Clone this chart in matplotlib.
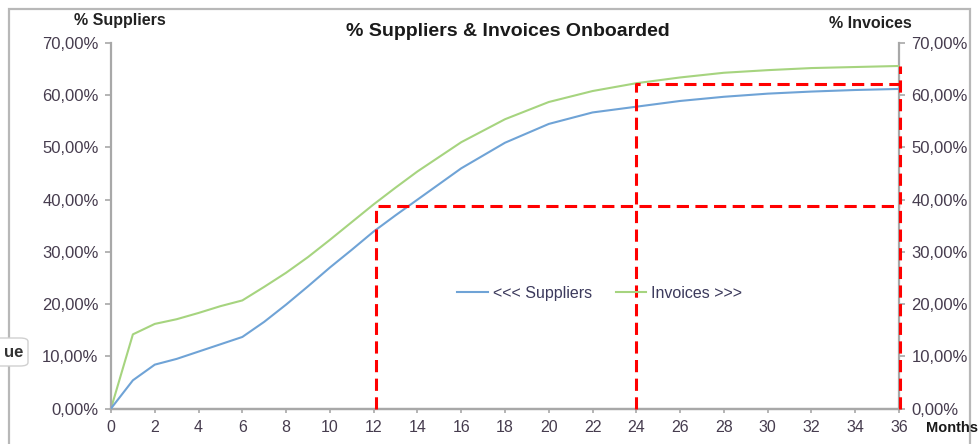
import matplotlib
matplotlib.use("Agg")
import matplotlib.pyplot as plt
from matplotlib.patches import Rectangle, FancyBboxPatch
from matplotlib.ticker import FuncFormatter

plt.rcParams['font.family'] = ['Liberation Sans', 'DejaVu Sans']

# Months since launch
months = [0, 1, 2, 3, 4, 5, 6, 7, 8, 9, 10, 11, 12, 13, 14,
          16, 18, 20, 22, 24, 26, 28, 30, 32, 34, 36]
# Share of suppliers onboarded (left axis)
suppliers = [0.0, 5.4, 8.4, 9.5, 10.9, 12.3, 13.7, 16.6, 19.9, 23.4, 27.0, 30.4, 33.9, 37.0, 40.0,
             46.0, 50.9, 54.5, 56.7, 57.8, 58.9, 59.7, 60.3, 60.7, 61.0, 61.2]
# Share of invoices onboarded (right axis)
invoices = [0.0, 14.2, 16.2, 17.1, 18.3, 19.6, 20.7, 23.3, 26.0, 29.0, 32.3, 35.7, 39.1, 42.3, 45.4,
            51.0, 55.4, 58.7, 60.8, 62.3, 63.4, 64.3, 64.8, 65.2, 65.4, 65.6]

x_ticks = list(range(0, 37, 2))
y_ticks = [0, 10, 20, 30, 40, 50, 60, 70]

# Milestone guides: (month, level)
guide_months = [12.1, 24.0, 36.05]
guide_levels = [38.8, 62.2, 65.6]

BLUE = '#6fa3d6'
GREEN = '#a6d47f'
RED = '#ff0000'
AXIS = '#a8a8a8'
TXT = '#463c4e'

fig = plt.figure(figsize=(9.8, 4.44), dpi=100)
fig.patch.set_facecolor('white')

ax = fig.add_axes([111 / 980, 1 - 408.5 / 444, 788 / 980, 365.5 / 444])
ax2 = ax.twinx()

ax.plot(months, suppliers, color=BLUE, lw=1.5, label='<<< Suppliers', zorder=3)
ax2.plot(months, invoices, color=GREEN, lw=1.5, label='Invoices >>>', zorder=3)

# Dashed milestone frames
dash = dict(color=RED, lw=2.2, dashes=(4, 2.1), zorder=4, clip_on=False,
            solid_capstyle='butt', dash_capstyle='butt')
right_edge = guide_months[2]
ax.plot([guide_months[0], guide_months[0], right_edge],
        [0, guide_levels[0], guide_levels[0]], **dash)
ax.plot([guide_months[1], guide_months[1], right_edge],
        [0, guide_levels[1], guide_levels[1]], **dash)
ax.plot([guide_months[2], guide_months[2]], [0, guide_levels[2]], **dash)

pct = FuncFormatter(lambda v, p: f"{v:.2f}".replace('.', ',') + '%')
for a in (ax, ax2):
    a.set_xlim(0, 36)
    a.set_ylim(0, 70)
    a.set_yticks(y_ticks)
    a.yaxis.set_major_formatter(pct)
    for s in a.spines.values():
        s.set_color(AXIS)
        s.set_linewidth(1.6)
    a.spines['top'].set_visible(False)
    a.tick_params(colors=AXIS, labelcolor=TXT, labelsize=12, length=4, width=1.2)

ax.spines['right'].set_visible(False)
ax2.spines['left'].set_visible(False)
ax.set_xticks(x_ticks)
ax.tick_params(axis='x', length=3, pad=5, labelsize=11.5)
ax.tick_params(axis='y', pad=5)
ax2.tick_params(axis='y', pad=5)
ax.set_zorder(ax2.get_zorder() + 1)
ax.patch.set_visible(False)

h1, l1 = ax.get_legend_handles_labels()
h2, l2 = ax2.get_legend_handles_labels()
leg = ax.legend(h1 + h2, l1 + l2, loc='center', bbox_to_anchor=(0.62, 0.316),
                ncol=2, frameon=False, fontsize=11.5, handlelength=1.9,
                handletextpad=0.3, columnspacing=1.5)
for t in leg.get_texts():
    t.set_color('#3c3a5c')

# Headings
fig.text(120 / 980, 1 - 21 / 444, '% Suppliers', ha='center', va='center',
         fontsize=11.5, fontweight='bold', color='#222222')
fig.text(870 / 980, 1 - 24 / 444, '% Invoices', ha='center', va='center',
         fontsize=11.5, fontweight='bold', color='#222222')
fig.text(508 / 980, 1 - 32 / 444, '% Suppliers & Invoices Onboarded', ha='center',
         va='center', fontsize=14, fontweight='bold', color='#1a1a1a')
fig.text(978 / 980, 1 - 428 / 444, 'Months', ha='right', va='center',
         fontsize=10.5, fontweight='bold', color='#1a1a1a')

# Outer chart frame
fig.patches.append(Rectangle((9 / 980, -0.1), 961 / 980, 1.1 - 9 / 444,
                             transform=fig.transFigure, fill=False,
                             edgecolor='#b8b8b8', lw=1.6))

# Clipped tooltip at the left edge
fig.patches.append(FancyBboxPatch((-20 / 980, 1 - 366 / 444), 48 / 980, 28 / 444,
                                  boxstyle='round,pad=0,rounding_size=0.008',
                                  transform=fig.transFigure, facecolor='white',
                                  edgecolor='#d0d0d0', lw=1.0))
fig.text(14 / 980, 1 - 352 / 444, 'ue', ha='center', va='center',
         fontsize=12, fontweight='bold', color='#333333')

fig.savefig('out.png', dpi=100)
